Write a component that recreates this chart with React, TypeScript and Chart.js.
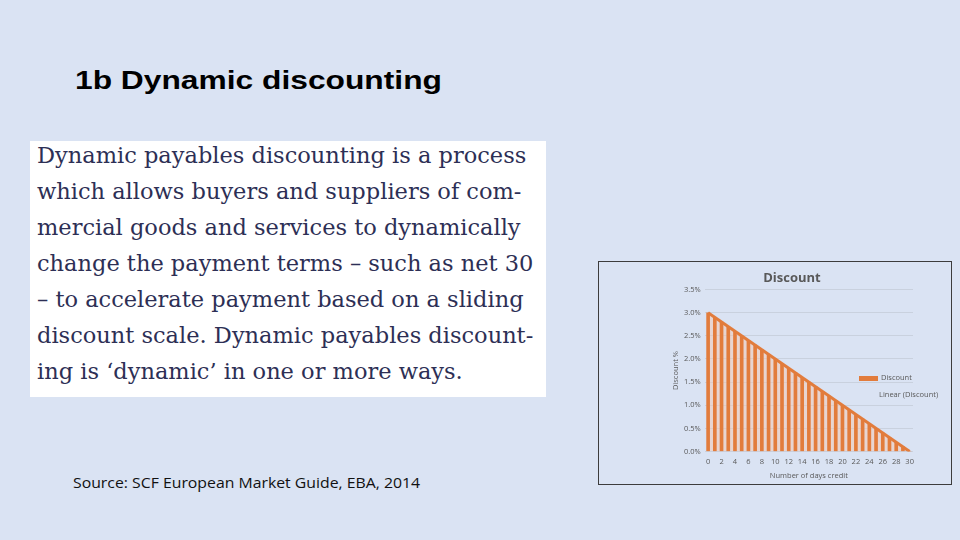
import { useEffect, useRef } from 'react'
import { Chart, registerables } from 'chart.js'

Chart.register(...registerables)

const DAYS = [
  '0', '1', '2', '3', '4', '5', '6', '7', '8', '9', '10',
  '11', '12', '13', '14', '15', '16', '17', '18', '19', '20',
  '21', '22', '23', '24', '25', '26', '27', '28', '29', '30',
]

// discount in percent for each day of credit
const DISCOUNT = [
  3.0, 2.9, 2.8, 2.7, 2.6, 2.5, 2.4, 2.3, 2.2, 2.1, 2.0,
  1.9, 1.8, 1.7, 1.6, 1.5, 1.4, 1.3, 1.2, 1.1, 1.0,
  0.9, 0.8, 0.7, 0.6, 0.5, 0.4, 0.3, 0.2, 0.1, 0.0,
]

// linear trend end points
const TREND_DAYS = ['0', '30']
const TREND_VALUES = [3.0, 0.0]

const Y_MAX = 3.5
const Y_STEP = 0.5

const TEXT_LINES = [
  'Dynamic payables discounting is a process',
  'which allows buyers and suppliers of com-',
  'mercial goods and services to dynamically',
  'change the payment terms \u2013 such as net 30',
  '\u2013 to accelerate payment based on a sliding',
  'discount scale. Dynamic payables discount-',
  'ing is \u2018dynamic\u2019 in one or more ways.',
]

const ORANGE = '#E27C3C'
const GREY_TEXT = '#595959'
const CHART_FONT = 'Open Sans'

export default function App() {
  const chartRef = useRef<HTMLCanvasElement>(null)
  const chartInstanceRef = useRef<Chart | null>(null)

  useEffect(() => {
    if (!chartRef.current) return
    if (chartInstanceRef.current) chartInstanceRef.current.destroy()

    const trend = TREND_DAYS.map((d, i) => ({ x: d, y: TREND_VALUES[i] }))

    chartInstanceRef.current = new Chart(chartRef.current, {
      type: 'bar',
      data: {
        labels: DAYS,
        datasets: [
          {
            type: 'line',
            label: 'trend-fill',
            data: trend,
            borderWidth: 0,
            pointRadius: 0,
            fill: 'origin',
            backgroundColor: 'rgba(246, 200, 176, 0.5)',
            order: 3,
          },
          {
            type: 'bar',
            label: 'Discount',
            data: DISCOUNT,
            backgroundColor: ORANGE,
            borderWidth: 0,
            barThickness: 3,
            order: 2,
          },
          {
            type: 'line',
            label: 'Linear (Discount)',
            data: trend,
            borderColor: ORANGE,
            borderWidth: 3,
            pointRadius: 0,
            fill: false,
            order: 1,
          },
        ],
      },
      options: {
        animation: false,
        responsive: true,
        maintainAspectRatio: false,
        layout: { padding: { left: 72, right: 38, top: 0, bottom: 5 } },
        plugins: {
          legend: { display: false },
          tooltip: { enabled: false },
          title: {
            display: true,
            text: 'Discount',
            color: GREY_TEXT,
            font: { family: CHART_FONT, size: 13, weight: 'bold' },
            padding: { top: 8, bottom: 4 },
          },
        },
        scales: {
          x: {
            grid: { display: false, drawTicks: false },
            border: { display: false },
            ticks: {
              autoSkip: false,
              maxRotation: 0,
              padding: 7,
              color: GREY_TEXT,
              font: { family: CHART_FONT, size: 7.5, lineHeight: 1 },
              callback: (_v, i) => (i % 2 === 0 ? DAYS[i] : ''),
            },
            title: {
              display: true,
              text: 'Number of days credit',
              color: GREY_TEXT,
              font: { family: CHART_FONT, size: 7.5, lineHeight: 0.8 },
              padding: { top: 0, bottom: 0 },
            },
          },
          y: {
            min: 0,
            max: Y_MAX,
            grid: { color: '#C9D1DE', lineWidth: 1, drawTicks: false },
            border: { display: false },
            ticks: {
              stepSize: Y_STEP,
              padding: 4,
              color: GREY_TEXT,
              font: { family: CHART_FONT, size: 7.5 },
              callback: (v) => `${Number(v).toFixed(1)}%`,
            },
            title: {
              display: true,
              text: 'Discount %',
              color: GREY_TEXT,
              font: { family: CHART_FONT, size: 7.5 },
              padding: { top: 0, bottom: 0 },
            },
          },
        },
      },
    })

    return () => {
      if (chartInstanceRef.current) {
        chartInstanceRef.current.destroy()
        chartInstanceRef.current = null
      }
    }
  }, [])

  return (
    <div
      style={{
        position: 'fixed',
        left: 0,
        top: 0,
        width: 960,
        height: 540,
        background: '#DAE3F3',
        overflow: 'hidden',
      }}
    >
      {/* slide title */}
      <div
        style={{
          position: 'absolute',
          left: 75,
          top: 66,
          fontFamily: 'Liberation Sans, Arial, sans-serif',
          fontWeight: 'bold',
          fontSize: 25,
          color: '#000',
          whiteSpace: 'nowrap',
          transform: 'scaleX(1.27)',
          transformOrigin: 'left top',
        }}
      >
        1b Dynamic discounting
      </div>

      {/* quoted text box */}
      <div
        style={{
          position: 'absolute',
          left: 30,
          top: 141,
          width: 516,
          height: 256,
          background: '#FFFFFF',
        }}
      >
        {TEXT_LINES.map((line, i) => (
          <div
            key={i}
            style={{
              position: 'absolute',
              left: 7,
              top: -4 + i * 36,
              height: 36,
              lineHeight: '36px',
              fontFamily: 'DejaVu Serif, serif',
              fontSize: 22.5,
              color: '#2D2F55',
              whiteSpace: 'nowrap',
            }}
          >
            {line}
          </div>
        ))}
      </div>

      {/* source */}
      <div
        style={{
          position: 'absolute',
          left: 73,
          top: 473,
          fontFamily: 'Open Sans, sans-serif',
          fontSize: 14.5,
          color: '#111',
          whiteSpace: 'nowrap',
          transform: 'scaleX(1.09)',
          transformOrigin: 'left top',
        }}
      >
        Source: SCF European Market Guide, EBA, 2014
      </div>

      {/* chart box */}
      <div
        style={{
          position: 'absolute',
          left: 598,
          top: 261,
          width: 352,
          height: 222,
          border: '1px solid #3C3C3C',
        }}
      >
        <canvas ref={chartRef} />
        <div
          style={{
            position: 'absolute',
            left: 260,
            top: 114,
            width: 19,
            height: 5,
            background: ORANGE,
          }}
        />
        <div
          style={{
            position: 'absolute',
            left: 282,
            top: 110,
            fontFamily: CHART_FONT,
            fontSize: 7.5,
            color: GREY_TEXT,
            whiteSpace: 'nowrap',
          }}
        >
          Discount
        </div>
        <div
          style={{
            position: 'absolute',
            left: 280,
            top: 127,
            fontFamily: CHART_FONT,
            fontSize: 7.5,
            color: GREY_TEXT,
            whiteSpace: 'nowrap',
          }}
        >
          Linear (Discount)
        </div>
      </div>
    </div>
  )
}
